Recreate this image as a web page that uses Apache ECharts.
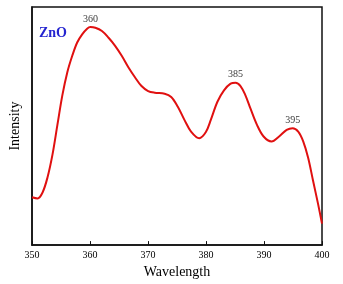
<!DOCTYPE html>
<html><head><meta charset="utf-8">
<script src="https://cdn.jsdelivr.net/npm/echarts@6/dist/echarts.min.js"></script>
<style>html,body{margin:0;padding:0;background:#fff}#c{width:343px;height:284px}</style>
</head><body><div id="c"></div>
<script>
var wavelength = [350,350.97,351.82,352.67,353.53,354.38,355.23,356.09,356.94,357.79,358.65,359.5,360.07,360.92,362.06,363.2,364.33,365.47,366.61,367.75,368.88,370.02,371.16,372.87,374,375.14,376.28,377.42,378.84,379.98,380.83,381.97,383.1,384.24,385.1,385.95,386.8,387.66,388.79,389.93,391.3,392.6,393.91,394.94,395.9,396.76,397.61,398.46,399.32,400];
var intensity = [20.1,19.6,22.1,28.4,38.0,50.5,62.9,72.6,79.5,85.1,88.5,90.9,91.6,91.3,89.9,87.1,83.7,79.5,74.7,70.5,66.8,64.7,64.0,63.6,62.2,58.1,52.6,47.7,44.9,47.5,52.6,60.2,65.0,67.8,68.2,66.8,62.9,57.4,50.5,45.6,43.5,45.6,48.4,49.1,47.7,43.6,36.7,27.0,17.3,9.0];
var peakLabels = ['360','385','395'];
var peakX = [360.07,385.1,394.94];
var peakY = [91.6,68.2,49.1];
var xTicks = [350,360,370,380,390,400];

var chart = echarts.init(document.getElementById('c'));
var serif = '"Liberation Serif","DejaVu Serif",serif';
chart.setOption({
  animation:false,
  title:{text:'ZnO',left:34,top:21,textStyle:{color:'#2525d0',fontFamily:serif,fontSize:14,fontWeight:'bold'}},
  grid:{left:29.5,right:21,top:7,bottom:36,show:true,borderColor:'#111',borderWidth:1.5},
  xAxis:{type:'value',min:350,max:400,interval:10,
    name:'Wavelength',nameLocation:'middle',nameGap:13,
    nameTextStyle:{fontFamily:serif,fontSize:14,color:'#000'},
    axisLine:{show:true,lineStyle:{color:'#111',width:1.5}},
    axisTick:{show:true,inside:true,length:4,lineStyle:{color:'#111'}},
    axisLabel:{fontFamily:serif,fontSize:10,color:'#000',margin:5,
      formatter:function(v){return xTicks.indexOf(v)>=0?String(v):'';}},
    splitLine:{show:false}},
  yAxis:{type:'value',min:0,max:100,
    name:'Intensity',nameLocation:'middle',nameGap:10,
    nameTextStyle:{fontFamily:serif,fontSize:14,color:'#000'},
    axisLine:{show:true,lineStyle:{color:'#111',width:1.5}},
    axisTick:{show:false},axisLabel:{show:false},splitLine:{show:false}},
  series:[
    {type:'line',data:wavelength.map(function(x,i){return [x,intensity[i]];}),
     smooth:0.35,symbol:'none',lineStyle:{color:'#e01010',width:2}},
    {type:'scatter',symbolSize:0,silent:true,
     data:peakX.map(function(x,i){return {value:[x,peakY[i]],name:peakLabels[i]};}),
     label:{show:true,position:'top',distance:3,formatter:'{b}',fontFamily:serif,fontSize:10,color:'#000'}}
  ]
});
</script></body></html>
